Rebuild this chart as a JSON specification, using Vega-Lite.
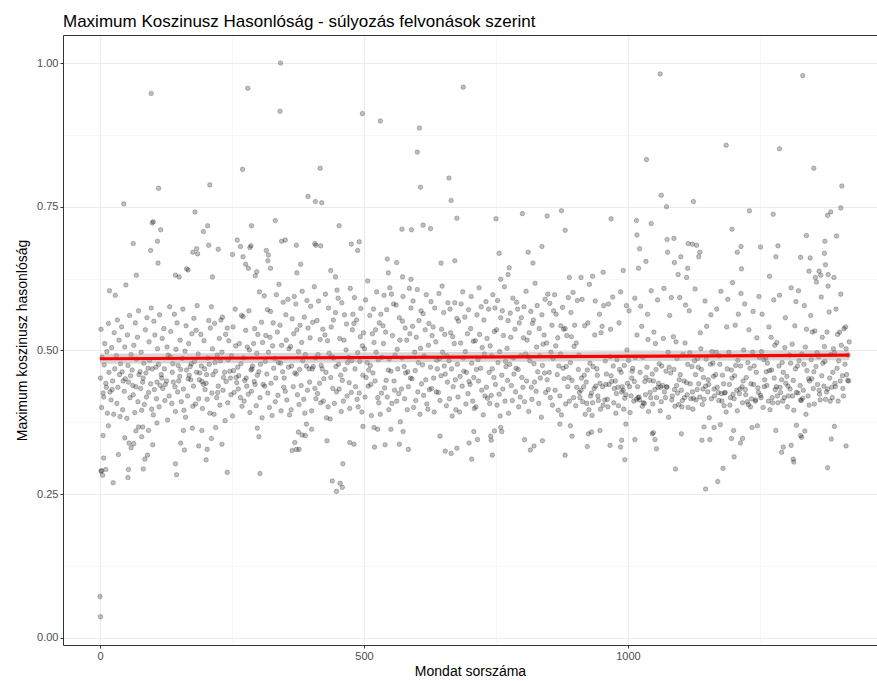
{"$schema":"https://vega.github.io/schema/vega-lite/v6.json","autosize":{"type":"none"},"padding":{"left":63,"top":35,"right":0,"bottom":36},"width":814,"height":610,"background":"white","title":{"text":"Maximum Koszinusz Hasonlóság - súlyozás felvonások szerint","anchor":"start","frame":"group","font":"Liberation Sans","fontSize":17,"fontWeight":"normal","color":"#000000","baseline":"alphabetic","offset":10,"dy":19},"config":{"view":{"stroke":null},"axis":{"labelFont":"Liberation Sans","titleFont":"Liberation Sans"}},"data":{"values":[
{"x":97,"y":0.947},{"x":111,"y":0.782},{"x":45,"y":0.755},{"x":180,"y":0.741},{"x":99,"y":0.722},{"x":101,"y":0.724},{"x":115,"y":0.71},{"x":196,"y":0.707},{"x":63,"y":0.686},{"x":109,"y":0.69},{"x":96,"y":0.674},{"x":183,"y":0.677},{"x":176,"y":0.671},{"x":185,"y":0.668},{"x":110,"y":0.652},{"x":69,"y":0.631},{"x":167,"y":0.64},{"x":164,"y":0.642},{"x":143,"y":0.631},{"x":150,"y":0.628},
{"x":342,"y":1.0},{"x":280,"y":0.956},{"x":341,"y":0.916},{"x":270,"y":0.815},{"x":208,"y":0.788},{"x":417,"y":0.817},{"x":394,"y":0.768},{"x":408,"y":0.759},{"x":420,"y":0.757},{"x":332,"y":0.726},{"x":204,"y":0.717},{"x":287,"y":0.717},{"x":260,"y":0.692},{"x":266,"y":0.681},{"x":286,"y":0.682},{"x":284,"y":0.679},{"x":344,"y":0.69},{"x":351,"y":0.692},{"x":372,"y":0.683},{"x":407,"y":0.686},{"x":409,"y":0.683},{"x":418,"y":0.682},{"x":453,"y":0.717},{"x":206,"y":0.683},{"x":224,"y":0.676},{"x":251,"y":0.667},{"x":271,"y":0.663},{"x":315,"y":0.674},{"x":319,"y":0.666},{"x":318,"y":0.656},{"x":276,"y":0.65},{"x":281,"y":0.643},{"x":323,"y":0.643},{"x":380,"y":0.65},{"x":373,"y":0.635},{"x":437,"y":0.639},{"x":446,"y":0.628},{"x":297,"y":0.637},{"x":294,"y":0.63},{"x":213,"y":0.628},
{"x":688,"y":0.958},{"x":497,"y":0.912},{"x":531,"y":0.899},{"x":605,"y":0.887},{"x":601,"y":0.845},{"x":661,"y":0.8},{"x":607,"y":0.784},{"x":665,"y":0.761},{"x":676,"y":0.73},{"x":572,"y":0.711},{"x":590,"y":0.71},{"x":612,"y":0.718},{"x":626,"y":0.712},{"x":476,"y":0.685},{"x":491,"y":0.689},{"x":488,"y":0.674},{"x":544,"y":0.659},{"x":562,"y":0.653},{"x":646,"y":0.652},{"x":672,"y":0.656},{"x":546,"y":0.635},{"x":573,"y":0.628},{"x":589,"y":0.624},
{"x":750,"y":0.729},{"x":800,"y":0.738},{"x":847,"y":0.734},{"x":874,"y":0.743},{"x":881,"y":0.709},{"x":968,"y":0.729},{"x":756,"y":0.669},{"x":811,"y":0.671},{"x":837,"y":0.681},{"x":820,"y":0.652},{"x":775,"y":0.644},{"x":773,"y":0.632},{"x":759,"y":0.624},{"x":889,"y":0.627},{"x":911,"y":0.627},{"x":933,"y":0.629},{"x":953,"y":0.636},
{"x":1061,"y":0.981},{"x":1186,"y":0.857},{"x":1035,"y":0.832},{"x":1063,"y":0.77},{"x":1073,"y":0.75},{"x":1124,"y":0.759},{"x":1016,"y":0.726},{"x":1044,"y":0.721},{"x":1197,"y":0.711},{"x":1017,"y":0.701},{"x":1074,"y":0.693},{"x":1087,"y":0.695},{"x":1114,"y":0.686},{"x":1122,"y":0.685},{"x":1130,"y":0.683},{"x":1136,"y":0.671},{"x":1134,"y":0.663},{"x":1022,"y":0.677},{"x":1075,"y":0.671},{"x":1100,"y":0.663},{"x":1214,"y":0.681},{"x":1207,"y":0.671},{"x":1034,"y":0.655},{"x":1088,"y":0.653},{"x":1020,"y":0.643},{"x":1113,"y":0.643},{"x":1095,"y":0.632},{"x":1111,"y":0.627},{"x":1215,"y":0.642},{"x":991,"y":0.639},
{"x":1331,"y":0.978},{"x":1287,"y":0.851},{"x":1352,"y":0.817},{"x":1405,"y":0.786},{"x":1403,"y":0.748},{"x":1230,"y":0.743},{"x":1275,"y":0.737},{"x":1384,"y":0.741},{"x":1378,"y":0.735},{"x":1338,"y":0.7},{"x":1395,"y":0.699},{"x":1373,"y":0.69},{"x":1372,"y":0.669},{"x":1374,"y":0.649},{"x":1251,"y":0.68},{"x":1284,"y":0.682},{"x":1280,"y":0.663},{"x":1327,"y":0.662},{"x":1345,"y":0.661},{"x":1268,"y":0.629},{"x":1343,"y":0.638},{"x":1362,"y":0.638},{"x":1365,"y":0.631},{"x":1355,"y":0.627},{"x":1379,"y":0.632},{"x":1390,"y":0.627},
{"x":0,"y":0.072},{"x":1,"y":0.037},{"x":16,"y":0.369},{"x":6,"y":0.352},{"x":68,"y":0.36},{"x":73,"y":0.367},{"x":81,"y":0.367},{"x":47,"y":0.348},{"x":55,"y":0.339},{"x":64,"y":0.338},{"x":59,"y":0.331},{"x":79,"y":0.35},{"x":92,"y":0.361},{"x":100,"y":0.336},{"x":35,"y":0.319},{"x":7,"y":0.313},{"x":2,"y":0.29},{"x":3,"y":0.291},{"x":11,"y":0.293},{"x":5,"y":0.283},{"x":25,"y":0.27},{"x":54,"y":0.293},{"x":53,"y":0.279},{"x":82,"y":0.294},{"x":85,"y":0.311},{"x":90,"y":0.318},{"x":143,"y":0.303},{"x":145,"y":0.284},{"x":153,"y":0.339},{"x":160,"y":0.327},{"x":187,"y":0.334},{"x":158,"y":0.361},{"x":175,"y":0.365},{"x":193,"y":0.361},{"x":108,"y":0.374},
{"x":211,"y":0.347},{"x":203,"y":0.328},{"x":201,"y":0.31},{"x":231,"y":0.337},{"x":219,"y":0.366},{"x":241,"y":0.288},{"x":303,"y":0.286},{"x":301,"y":0.35},{"x":298,"y":0.365},{"x":364,"y":0.326},{"x":372,"y":0.328},{"x":377,"y":0.328},{"x":369,"y":0.34},{"x":376,"y":0.358},{"x":383,"y":0.353},{"x":389,"y":0.352},{"x":391,"y":0.372},{"x":401,"y":0.363},{"x":430,"y":0.343},{"x":440,"y":0.273},{"x":448,"y":0.255},{"x":455,"y":0.269},{"x":459,"y":0.262},
{"x":460,"y":0.303},{"x":473,"y":0.34},{"x":481,"y":0.337},{"x":498,"y":0.368},{"x":519,"y":0.366},{"x":526,"y":0.363},{"x":520,"y":0.332},{"x":540,"y":0.336},{"x":551,"y":0.363},{"x":567,"y":0.337},{"x":574,"y":0.359},{"x":584,"y":0.328},{"x":644,"y":0.351},{"x":654,"y":0.325},{"x":665,"y":0.321},{"x":676,"y":0.33},{"x":699,"y":0.339},{"x":704,"y":0.311},{"x":708,"y":0.359},
{"x":715,"y":0.345},{"x":740,"y":0.351},{"x":741,"y":0.344},{"x":743,"y":0.318},{"x":747,"y":0.36},{"x":759,"y":0.366},{"x":761,"y":0.359},{"x":804,"y":0.345},{"x":822,"y":0.334},{"x":815,"y":0.327},{"x":838,"y":0.343},{"x":871,"y":0.372},{"x":891,"y":0.369},{"x":894,"y":0.351},{"x":881,"y":0.318},{"x":923,"y":0.333},{"x":925,"y":0.355},{"x":931,"y":0.358},{"x":947,"y":0.361},{"x":966,"y":0.335},
{"x":986,"y":0.332},{"x":988,"y":0.344},{"x":994,"y":0.31},{"x":996,"y":0.372},{"x":1013,"y":0.345},{"x":1046,"y":0.355},{"x":1048,"y":0.357},{"x":1051,"y":0.345},{"x":1054,"y":0.329},{"x":1090,"y":0.294},{"x":1101,"y":0.355},{"x":1140,"y":0.344},{"x":1147,"y":0.259},{"x":1170,"y":0.272},{"x":1180,"y":0.295},{"x":1155,"y":0.345},{"x":1163,"y":0.366},{"x":1144,"y":0.367},{"x":1175,"y":0.371},{"x":1196,"y":0.347},{"x":1201,"y":0.315},{"x":1200,"y":0.361},{"x":1213,"y":0.339},
{"x":1217,"y":0.347},{"x":1235,"y":0.366},{"x":1245,"y":0.369},{"x":1280,"y":0.361},{"x":1294,"y":0.332},{"x":1291,"y":0.323},{"x":1309,"y":0.335},{"x":1313,"y":0.311},{"x":1314,"y":0.306},{"x":1327,"y":0.352},{"x":1329,"y":0.349},{"x":1319,"y":0.37},{"x":1335,"y":0.36},{"x":1378,"y":0.296},{"x":1385,"y":0.346},{"x":1413,"y":0.334},{"x":1391,"y":0.368},
{"x":1,"y":0.452},{"x":2,"y":0.537},{"x":3,"y":0.401},{"x":4,"y":0.488},{"x":6,"y":0.426},{"x":7,"y":0.419},{"x":8,"y":0.475},{"x":9,"y":0.512},
{"x":11,"y":0.443},{"x":12,"y":0.436},{"x":13,"y":0.498},{"x":14,"y":0.391},{"x":16,"y":0.547},{"x":17,"y":0.462},{"x":18,"y":0.604},{"x":19,"y":0.428},
{"x":21,"y":0.414},{"x":22,"y":0.505},{"x":23,"y":0.432},{"x":24,"y":0.447},{"x":26,"y":0.389},{"x":27,"y":0.531},{"x":28,"y":0.468},{"x":29,"y":0.596},
{"x":31,"y":0.491},{"x":32,"y":0.408},{"x":33,"y":0.553},{"x":34,"y":0.436},{"x":36,"y":0.518},{"x":37,"y":0.458},{"x":38,"y":0.385},{"x":39,"y":0.477},
{"x":41,"y":0.541},{"x":42,"y":0.463},{"x":43,"y":0.397},{"x":44,"y":0.447},{"x":46,"y":0.429},{"x":47,"y":0.506},{"x":48,"y":0.451},{"x":49,"y":0.614},
{"x":51,"y":0.382},{"x":52,"y":0.527},{"x":53,"y":0.474},{"x":54,"y":0.445},{"x":56,"y":0.561},{"x":57,"y":0.418},{"x":58,"y":0.456},{"x":59,"y":0.493},
{"x":61,"y":0.466},{"x":62,"y":0.439},{"x":63,"y":0.423},{"x":64,"y":0.509},{"x":66,"y":0.392},{"x":67,"y":0.548},{"x":68,"y":0.437},{"x":69,"y":0.485},
{"x":71,"y":0.523},{"x":72,"y":0.411},{"x":73,"y":0.569},{"x":74,"y":0.458},{"x":76,"y":0.463},{"x":77,"y":0.434},{"x":78,"y":0.497},{"x":79,"y":0.396},
{"x":81,"y":0.445},{"x":82,"y":0.452},{"x":83,"y":0.478},{"x":84,"y":0.406},{"x":86,"y":0.536},{"x":87,"y":0.461},{"x":88,"y":0.419},{"x":89,"y":0.557},
{"x":91,"y":0.469},{"x":92,"y":0.427},{"x":93,"y":0.515},{"x":94,"y":0.483},{"x":96,"y":0.442},{"x":97,"y":0.574},{"x":98,"y":0.398},{"x":99,"y":0.468},
{"x":101,"y":0.388},{"x":102,"y":0.551},{"x":103,"y":0.432},{"x":104,"y":0.527},{"x":106,"y":0.471},{"x":107,"y":0.416},{"x":108,"y":0.445},{"x":109,"y":0.503},
{"x":111,"y":0.476},{"x":112,"y":0.402},{"x":113,"y":0.562},{"x":114,"y":0.439},{"x":116,"y":0.458},{"x":117,"y":0.452},{"x":118,"y":0.521},{"x":119,"y":0.434},
{"x":121,"y":0.538},{"x":122,"y":0.468},{"x":123,"y":0.413},{"x":124,"y":0.441},{"x":126,"y":0.447},{"x":127,"y":0.506},{"x":128,"y":0.379},{"x":129,"y":0.492},
{"x":131,"y":0.421},{"x":132,"y":0.576},{"x":133,"y":0.489},{"x":134,"y":0.533},{"x":136,"y":0.408},{"x":137,"y":0.462},{"x":138,"y":0.477},{"x":139,"y":0.445},
{"x":141,"y":0.563},{"x":142,"y":0.437},{"x":143,"y":0.394},{"x":144,"y":0.502},{"x":146,"y":0.548},{"x":147,"y":0.428},{"x":148,"y":0.474},{"x":149,"y":0.447},
{"x":151,"y":0.455},{"x":152,"y":0.518},{"x":153,"y":0.467},{"x":154,"y":0.411},{"x":156,"y":0.486},{"x":157,"y":0.572},{"x":158,"y":0.433},{"x":159,"y":0.396},
{"x":161,"y":0.499},{"x":162,"y":0.384},{"x":163,"y":0.543},{"x":164,"y":0.466},{"x":166,"y":0.421},{"x":167,"y":0.451},{"x":168,"y":0.512},{"x":169,"y":0.457},
{"x":171,"y":0.472},{"x":172,"y":0.449},{"x":173,"y":0.477},{"x":174,"y":0.529},{"x":176,"y":0.403},{"x":177,"y":0.438},{"x":178,"y":0.556},{"x":179,"y":0.481},
{"x":181,"y":0.407},{"x":182,"y":0.535},{"x":183,"y":0.462},{"x":184,"y":0.578},{"x":186,"y":0.494},{"x":187,"y":0.416},{"x":188,"y":0.449},{"x":189,"y":0.461},
{"x":191,"y":0.528},{"x":192,"y":0.473},{"x":193,"y":0.446},{"x":194,"y":0.399},{"x":196,"y":0.441},{"x":197,"y":0.517},{"x":198,"y":0.468},{"x":199,"y":0.432},
{"x":201,"y":0.443},{"x":202,"y":0.458},{"x":203,"y":0.415},{"x":204,"y":0.487},{"x":206,"y":0.552},{"x":207,"y":0.476},{"x":208,"y":0.391},{"x":209,"y":0.539},
{"x":211,"y":0.576},{"x":212,"y":0.426},{"x":213,"y":0.503},{"x":214,"y":0.458},{"x":216,"y":0.389},{"x":217,"y":0.547},{"x":218,"y":0.479},{"x":219,"y":0.464},
{"x":221,"y":0.418},{"x":222,"y":0.492},{"x":223,"y":0.427},{"x":224,"y":0.438},{"x":226,"y":0.521},{"x":227,"y":0.405},{"x":228,"y":0.482},{"x":229,"y":0.553},
{"x":231,"y":0.497},{"x":232,"y":0.558},{"x":233,"y":0.431},{"x":234,"y":0.453},{"x":236,"y":0.462},{"x":237,"y":0.378},{"x":238,"y":0.528},{"x":239,"y":0.446},
{"x":241,"y":0.539},{"x":242,"y":0.409},{"x":243,"y":0.484},{"x":244,"y":0.517},{"x":246,"y":0.464},{"x":247,"y":0.452},{"x":248,"y":0.423},{"x":249,"y":0.491},
{"x":251,"y":0.386},{"x":252,"y":0.541},{"x":253,"y":0.465},{"x":254,"y":0.427},{"x":256,"y":0.572},{"x":257,"y":0.508},{"x":258,"y":0.453},{"x":259,"y":0.444},
{"x":261,"y":0.471},{"x":262,"y":0.433},{"x":263,"y":0.456},{"x":264,"y":0.512},{"x":266,"y":0.418},{"x":267,"y":0.477},{"x":268,"y":0.561},{"x":269,"y":0.403},
{"x":271,"y":0.559},{"x":272,"y":0.487},{"x":273,"y":0.412},{"x":274,"y":0.448},{"x":276,"y":0.535},{"x":277,"y":0.452},{"x":278,"y":0.438},{"x":279,"y":0.506},
{"x":281,"y":0.424},{"x":282,"y":0.569},{"x":283,"y":0.501},{"x":284,"y":0.392},{"x":286,"y":0.466},{"x":287,"y":0.429},{"x":288,"y":0.468},{"x":289,"y":0.473},
{"x":291,"y":0.512},{"x":292,"y":0.446},{"x":293,"y":0.538},{"x":294,"y":0.441},{"x":296,"y":0.404},{"x":297,"y":0.495},{"x":298,"y":0.457},{"x":299,"y":0.528},
{"x":301,"y":0.463},{"x":302,"y":0.602},{"x":303,"y":0.418},{"x":304,"y":0.476},{"x":306,"y":0.549},{"x":307,"y":0.383},{"x":308,"y":0.514},{"x":309,"y":0.441},
{"x":311,"y":0.595},{"x":312,"y":0.438},{"x":313,"y":0.481},{"x":314,"y":0.526},{"x":316,"y":0.459},{"x":317,"y":0.571},{"x":318,"y":0.426},{"x":319,"y":0.497},
{"x":321,"y":0.401},{"x":322,"y":0.523},{"x":323,"y":0.568},{"x":324,"y":0.443},{"x":326,"y":0.387},{"x":327,"y":0.508},{"x":328,"y":0.548},{"x":329,"y":0.469},
{"x":331,"y":0.486},{"x":332,"y":0.411},{"x":333,"y":0.452},{"x":334,"y":0.597},{"x":336,"y":0.532},{"x":337,"y":0.422},{"x":338,"y":0.479},{"x":339,"y":0.615},
{"x":341,"y":0.544},{"x":342,"y":0.478},{"x":343,"y":0.395},{"x":344,"y":0.509},{"x":346,"y":0.463},{"x":347,"y":0.584},{"x":348,"y":0.436},{"x":349,"y":0.452},
{"x":351,"y":0.429},{"x":352,"y":0.562},{"x":353,"y":0.518},{"x":354,"y":0.414},{"x":356,"y":0.589},{"x":357,"y":0.471},{"x":358,"y":0.503},{"x":359,"y":0.388},
{"x":361,"y":0.507},{"x":362,"y":0.397},{"x":363,"y":0.473},{"x":364,"y":0.555},{"x":366,"y":0.437},{"x":367,"y":0.529},{"x":368,"y":0.594},{"x":369,"y":0.461},
{"x":371,"y":0.581},{"x":372,"y":0.459},{"x":373,"y":0.536},{"x":374,"y":0.423},{"x":376,"y":0.498},{"x":377,"y":0.406},{"x":378,"y":0.467},{"x":379,"y":0.544},
{"x":381,"y":0.439},{"x":382,"y":0.514},{"x":383,"y":0.603},{"x":384,"y":0.482},{"x":386,"y":0.415},{"x":387,"y":0.558},{"x":388,"y":0.391},{"x":389,"y":0.493},
{"x":391,"y":0.473},{"x":392,"y":0.587},{"x":393,"y":0.431},{"x":394,"y":0.539},{"x":396,"y":0.468},{"x":397,"y":0.445},{"x":398,"y":0.522},{"x":399,"y":0.577},
{"x":401,"y":0.395},{"x":402,"y":0.468},{"x":403,"y":0.549},{"x":404,"y":0.472},{"x":406,"y":0.611},{"x":407,"y":0.434},{"x":408,"y":0.487},{"x":409,"y":0.416},
{"x":411,"y":0.552},{"x":412,"y":0.425},{"x":413,"y":0.493},{"x":414,"y":0.586},{"x":416,"y":0.443},{"x":417,"y":0.519},{"x":418,"y":0.409},{"x":419,"y":0.474},
{"x":421,"y":0.468},{"x":422,"y":0.537},{"x":423,"y":0.412},{"x":424,"y":0.451},{"x":426,"y":0.527},{"x":427,"y":0.598},{"x":428,"y":0.462},{"x":429,"y":0.383},
{"x":431,"y":0.517},{"x":432,"y":0.402},{"x":433,"y":0.574},{"x":434,"y":0.495},{"x":436,"y":0.381},{"x":437,"y":0.453},{"x":438,"y":0.541},{"x":439,"y":0.489},
{"x":441,"y":0.434},{"x":442,"y":0.553},{"x":443,"y":0.487},{"x":444,"y":0.408},{"x":446,"y":0.566},{"x":447,"y":0.472},{"x":448,"y":0.428},{"x":449,"y":0.605},
{"x":451,"y":0.591},{"x":452,"y":0.476},{"x":453,"y":0.433},{"x":454,"y":0.521},{"x":456,"y":0.457},{"x":457,"y":0.394},{"x":458,"y":0.583},{"x":459,"y":0.448},
{"x":461,"y":0.412},{"x":462,"y":0.518},{"x":463,"y":0.562},{"x":464,"y":0.467},{"x":466,"y":0.501},{"x":467,"y":0.546},{"x":468,"y":0.421},{"x":469,"y":0.479},
{"x":471,"y":0.488},{"x":472,"y":0.444},{"x":473,"y":0.399},{"x":474,"y":0.608},{"x":476,"y":0.427},{"x":477,"y":0.482},{"x":478,"y":0.536},{"x":479,"y":0.563},
{"x":481,"y":0.547},{"x":482,"y":0.592},{"x":483,"y":0.468},{"x":484,"y":0.437},{"x":486,"y":0.553},{"x":487,"y":0.415},{"x":488,"y":0.496},{"x":489,"y":0.402},
{"x":491,"y":0.426},{"x":492,"y":0.481},{"x":493,"y":0.524},{"x":494,"y":0.573},{"x":496,"y":0.393},{"x":497,"y":0.508},{"x":498,"y":0.457},{"x":499,"y":0.531},
{"x":501,"y":0.503},{"x":502,"y":0.419},{"x":503,"y":0.588},{"x":504,"y":0.453},{"x":506,"y":0.479},{"x":507,"y":0.621},{"x":508,"y":0.438},{"x":509,"y":0.466},
{"x":511,"y":0.561},{"x":512,"y":0.474},{"x":513,"y":0.441},{"x":514,"y":0.387},{"x":516,"y":0.529},{"x":517,"y":0.461},{"x":518,"y":0.572},{"x":519,"y":0.514},
{"x":521,"y":0.447},{"x":522,"y":0.536},{"x":523,"y":0.497},{"x":524,"y":0.602},{"x":526,"y":0.418},{"x":527,"y":0.484},{"x":528,"y":0.409},{"x":529,"y":0.548},
{"x":531,"y":0.389},{"x":532,"y":0.563},{"x":533,"y":0.426},{"x":534,"y":0.488},{"x":536,"y":0.543},{"x":537,"y":0.512},{"x":538,"y":0.596},{"x":539,"y":0.435},
{"x":541,"y":0.532},{"x":542,"y":0.448},{"x":543,"y":0.571},{"x":544,"y":0.419},{"x":546,"y":0.466},{"x":547,"y":0.397},{"x":548,"y":0.485},{"x":549,"y":0.609},
{"x":551,"y":0.464},{"x":552,"y":0.598},{"x":553,"y":0.408},{"x":554,"y":0.526},{"x":556,"y":0.581},{"x":557,"y":0.447},{"x":558,"y":0.431},{"x":559,"y":0.492},
{"x":561,"y":0.579},{"x":562,"y":0.412},{"x":563,"y":0.502},{"x":564,"y":0.468},{"x":566,"y":0.425},{"x":567,"y":0.557},{"x":568,"y":0.518},{"x":569,"y":0.376},
{"x":571,"y":0.433},{"x":572,"y":0.487},{"x":573,"y":0.551},{"x":574,"y":0.594},{"x":576,"y":0.472},{"x":577,"y":0.416},{"x":578,"y":0.539},{"x":579,"y":0.461},
{"x":581,"y":0.518},{"x":582,"y":0.397},{"x":583,"y":0.463},{"x":584,"y":0.437},{"x":586,"y":0.608},{"x":587,"y":0.529},{"x":588,"y":0.452},{"x":589,"y":0.574},
{"x":591,"y":0.451},{"x":592,"y":0.542},{"x":593,"y":0.586},{"x":594,"y":0.401},{"x":596,"y":0.497},{"x":597,"y":0.465},{"x":598,"y":0.413},{"x":599,"y":0.523},
{"x":601,"y":0.606},{"x":602,"y":0.428},{"x":603,"y":0.479},{"x":604,"y":0.552},{"x":606,"y":0.389},{"x":607,"y":0.504},{"x":608,"y":0.569},{"x":609,"y":0.442},
{"x":611,"y":0.475},{"x":612,"y":0.564},{"x":613,"y":0.422},{"x":614,"y":0.491},{"x":616,"y":0.536},{"x":617,"y":0.449},{"x":618,"y":0.597},{"x":619,"y":0.407},
{"x":621,"y":0.398},{"x":622,"y":0.509},{"x":623,"y":0.547},{"x":624,"y":0.432},{"x":626,"y":0.471},{"x":627,"y":0.585},{"x":628,"y":0.434},{"x":629,"y":0.526},
{"x":631,"y":0.541},{"x":632,"y":0.452},{"x":633,"y":0.393},{"x":634,"y":0.574},{"x":636,"y":0.515},{"x":637,"y":0.428},{"x":638,"y":0.483},{"x":639,"y":0.468},
{"x":641,"y":0.427},{"x":642,"y":0.599},{"x":643,"y":0.486},{"x":644,"y":0.413},{"x":646,"y":0.456},{"x":647,"y":0.537},{"x":648,"y":0.612},{"x":649,"y":0.497},
{"x":651,"y":0.566},{"x":652,"y":0.473},{"x":653,"y":0.528},{"x":654,"y":0.459},{"x":656,"y":0.404},{"x":657,"y":0.491},{"x":658,"y":0.445},{"x":659,"y":0.583},
{"x":661,"y":0.482},{"x":662,"y":0.416},{"x":663,"y":0.572},{"x":664,"y":0.531},{"x":666,"y":0.468},{"x":667,"y":0.386},{"x":668,"y":0.524},{"x":669,"y":0.437},
{"x":671,"y":0.512},{"x":672,"y":0.583},{"x":673,"y":0.449},{"x":674,"y":0.397},{"x":676,"y":0.556},{"x":677,"y":0.476},{"x":678,"y":0.419},{"x":679,"y":0.551},
{"x":681,"y":0.393},{"x":682,"y":0.455},{"x":683,"y":0.513},{"x":684,"y":0.581},{"x":686,"y":0.438},{"x":687,"y":0.602},{"x":688,"y":0.487},{"x":689,"y":0.464},
{"x":691,"y":0.558},{"x":692,"y":0.498},{"x":693,"y":0.407},{"x":694,"y":0.462},{"x":696,"y":0.529},{"x":697,"y":0.425},{"x":698,"y":0.571},{"x":699,"y":0.446},
{"x":701,"y":0.441},{"x":702,"y":0.538},{"x":703,"y":0.594},{"x":704,"y":0.478},{"x":706,"y":0.412},{"x":707,"y":0.516},{"x":708,"y":0.453},{"x":709,"y":0.399},
{"x":711,"y":0.517},{"x":712,"y":0.402},{"x":713,"y":0.467},{"x":714,"y":0.562},{"x":716,"y":0.484},{"x":717,"y":0.447},{"x":718,"y":0.609},{"x":719,"y":0.528},
{"x":721,"y":0.469},{"x":722,"y":0.576},{"x":723,"y":0.431},{"x":724,"y":0.505},{"x":726,"y":0.388},{"x":727,"y":0.553},{"x":728,"y":0.494},{"x":729,"y":0.421},
{"x":731,"y":0.585},{"x":732,"y":0.436},{"x":733,"y":0.521},{"x":734,"y":0.417},{"x":736,"y":0.572},{"x":737,"y":0.462},{"x":738,"y":0.408},{"x":739,"y":0.508},
{"x":741,"y":0.422},{"x":742,"y":0.491},{"x":743,"y":0.468},{"x":744,"y":0.597},{"x":746,"y":0.453},{"x":747,"y":0.533},{"x":748,"y":0.574},{"x":749,"y":0.441},
{"x":751,"y":0.536},{"x":752,"y":0.405},{"x":753,"y":0.587},{"x":754,"y":0.479},{"x":756,"y":0.424},{"x":757,"y":0.498},{"x":758,"y":0.386},{"x":759,"y":0.557},
{"x":761,"y":0.457},{"x":762,"y":0.569},{"x":763,"y":0.433},{"x":764,"y":0.526},{"x":766,"y":0.611},{"x":767,"y":0.412},{"x":768,"y":0.481},{"x":769,"y":0.472},
{"x":771,"y":0.504},{"x":772,"y":0.448},{"x":773,"y":0.552},{"x":774,"y":0.391},{"x":776,"y":0.476},{"x":777,"y":0.565},{"x":778,"y":0.523},{"x":779,"y":0.439},
{"x":781,"y":0.413},{"x":782,"y":0.591},{"x":783,"y":0.487},{"x":784,"y":0.459},{"x":786,"y":0.537},{"x":787,"y":0.428},{"x":788,"y":0.469},{"x":789,"y":0.584},
{"x":791,"y":0.572},{"x":792,"y":0.467},{"x":793,"y":0.402},{"x":794,"y":0.548},{"x":796,"y":0.419},{"x":797,"y":0.491},{"x":798,"y":0.557},{"x":799,"y":0.453},
{"x":801,"y":0.436},{"x":802,"y":0.522},{"x":803,"y":0.576},{"x":804,"y":0.411},{"x":806,"y":0.494},{"x":807,"y":0.603},{"x":808,"y":0.447},{"x":809,"y":0.518},
{"x":811,"y":0.489},{"x":812,"y":0.394},{"x":813,"y":0.531},{"x":814,"y":0.482},{"x":816,"y":0.568},{"x":817,"y":0.436},{"x":818,"y":0.415},{"x":819,"y":0.547},
{"x":821,"y":0.553},{"x":822,"y":0.477},{"x":823,"y":0.445},{"x":824,"y":0.617},{"x":826,"y":0.429},{"x":827,"y":0.506},{"x":828,"y":0.578},{"x":829,"y":0.463},
{"x":831,"y":0.408},{"x":832,"y":0.538},{"x":833,"y":0.491},{"x":834,"y":0.452},{"x":836,"y":0.384},{"x":837,"y":0.562},{"x":838,"y":0.474},{"x":839,"y":0.511},
{"x":841,"y":0.527},{"x":842,"y":0.461},{"x":843,"y":0.589},{"x":844,"y":0.427},{"x":846,"y":0.513},{"x":847,"y":0.449},{"x":848,"y":0.598},{"x":849,"y":0.432},
{"x":851,"y":0.462},{"x":852,"y":0.582},{"x":853,"y":0.418},{"x":854,"y":0.497},{"x":856,"y":0.544},{"x":857,"y":0.405},{"x":858,"y":0.486},{"x":859,"y":0.569},
{"x":861,"y":0.597},{"x":862,"y":0.431},{"x":863,"y":0.508},{"x":864,"y":0.563},{"x":866,"y":0.458},{"x":867,"y":0.522},{"x":868,"y":0.396},{"x":869,"y":0.473},
{"x":871,"y":0.421},{"x":872,"y":0.494},{"x":873,"y":0.543},{"x":874,"y":0.388},{"x":876,"y":0.575},{"x":877,"y":0.469},{"x":878,"y":0.537},{"x":879,"y":0.451},
{"x":881,"y":0.538},{"x":882,"y":0.407},{"x":883,"y":0.472},{"x":884,"y":0.526},{"x":886,"y":0.437},{"x":887,"y":0.592},{"x":888,"y":0.453},{"x":889,"y":0.412},
{"x":891,"y":0.479},{"x":892,"y":0.566},{"x":893,"y":0.524},{"x":894,"y":0.448},{"x":896,"y":0.601},{"x":897,"y":0.418},{"x":898,"y":0.507},{"x":899,"y":0.544},
{"x":901,"y":0.404},{"x":902,"y":0.513},{"x":903,"y":0.436},{"x":904,"y":0.587},{"x":906,"y":0.467},{"x":907,"y":0.492},{"x":908,"y":0.427},{"x":909,"y":0.418},
{"x":911,"y":0.431},{"x":912,"y":0.452},{"x":913,"y":0.589},{"x":914,"y":0.411},{"x":916,"y":0.437},{"x":917,"y":0.457},{"x":918,"y":0.543},{"x":919,"y":0.389},
{"x":921,"y":0.445},{"x":922,"y":0.408},{"x":923,"y":0.466},{"x":924,"y":0.548},{"x":926,"y":0.397},{"x":927,"y":0.615},{"x":928,"y":0.478},{"x":929,"y":0.421},
{"x":931,"y":0.426},{"x":932,"y":0.387},{"x":933,"y":0.409},{"x":934,"y":0.472},{"x":936,"y":0.434},{"x":937,"y":0.527},{"x":938,"y":0.586},{"x":939,"y":0.438},
{"x":941,"y":0.468},{"x":942,"y":0.457},{"x":943,"y":0.421},{"x":944,"y":0.413},{"x":946,"y":0.563},{"x":947,"y":0.443},{"x":948,"y":0.398},{"x":949,"y":0.531},
{"x":951,"y":0.542},{"x":952,"y":0.437},{"x":953,"y":0.405},{"x":954,"y":0.578},{"x":956,"y":0.414},{"x":957,"y":0.482},{"x":958,"y":0.441},{"x":959,"y":0.459},
{"x":961,"y":0.415},{"x":962,"y":0.402},{"x":963,"y":0.581},{"x":964,"y":0.441},{"x":966,"y":0.489},{"x":967,"y":0.537},{"x":968,"y":0.456},{"x":969,"y":0.446},
{"x":971,"y":0.593},{"x":972,"y":0.473},{"x":973,"y":0.409},{"x":974,"y":0.434},{"x":976,"y":0.447},{"x":977,"y":0.391},{"x":978,"y":0.425},{"x":979,"y":0.484},
{"x":981,"y":0.436},{"x":982,"y":0.404},{"x":983,"y":0.548},{"x":984,"y":0.467},{"x":986,"y":0.602},{"x":987,"y":0.462},{"x":988,"y":0.428},{"x":989,"y":0.437},
{"x":991,"y":0.431},{"x":992,"y":0.398},{"x":993,"y":0.474},{"x":994,"y":0.417},{"x":996,"y":0.423},{"x":997,"y":0.578},{"x":998,"y":0.501},{"x":999,"y":0.443},
{"x":1001,"y":0.483},{"x":1002,"y":0.569},{"x":1003,"y":0.437},{"x":1004,"y":0.392},{"x":1006,"y":0.421},{"x":1007,"y":0.452},{"x":1008,"y":0.464},{"x":1009,"y":0.469},
{"x":1011,"y":0.412},{"x":1012,"y":0.446},{"x":1013,"y":0.591},{"x":1014,"y":0.488},{"x":1016,"y":0.415},{"x":1017,"y":0.527},{"x":1018,"y":0.437},{"x":1019,"y":0.418},
{"x":1021,"y":0.419},{"x":1022,"y":0.414},{"x":1023,"y":0.462},{"x":1024,"y":0.577},{"x":1026,"y":0.542},{"x":1027,"y":0.403},{"x":1028,"y":0.488},{"x":1029,"y":0.409},
{"x":1031,"y":0.408},{"x":1032,"y":0.446},{"x":1033,"y":0.423},{"x":1034,"y":0.453},{"x":1036,"y":0.471},{"x":1037,"y":0.563},{"x":1038,"y":0.519},{"x":1039,"y":0.394},
{"x":1041,"y":0.448},{"x":1042,"y":0.427},{"x":1043,"y":0.418},{"x":1044,"y":0.604},{"x":1046,"y":0.459},{"x":1047,"y":0.407},{"x":1048,"y":0.447},{"x":1049,"y":0.532},
{"x":1051,"y":0.432},{"x":1052,"y":0.512},{"x":1053,"y":0.467},{"x":1054,"y":0.418},{"x":1056,"y":0.588},{"x":1057,"y":0.436},{"x":1058,"y":0.443},{"x":1059,"y":0.477},
{"x":1061,"y":0.395},{"x":1062,"y":0.436},{"x":1063,"y":0.411},{"x":1064,"y":0.473},{"x":1066,"y":0.439},{"x":1067,"y":0.521},{"x":1068,"y":0.608},{"x":1069,"y":0.428},
{"x":1071,"y":0.418},{"x":1072,"y":0.464},{"x":1073,"y":0.437},{"x":1074,"y":0.436},{"x":1076,"y":0.497},{"x":1077,"y":0.384},{"x":1078,"y":0.471},{"x":1079,"y":0.561},
{"x":1081,"y":0.461},{"x":1082,"y":0.592},{"x":1083,"y":0.414},{"x":1084,"y":0.421},{"x":1086,"y":0.524},{"x":1087,"y":0.467},{"x":1088,"y":0.432},{"x":1089,"y":0.403},
{"x":1091,"y":0.515},{"x":1092,"y":0.439},{"x":1093,"y":0.486},{"x":1094,"y":0.426},{"x":1096,"y":0.406},{"x":1097,"y":0.449},{"x":1098,"y":0.592},{"x":1099,"y":0.458},
{"x":1101,"y":0.431},{"x":1102,"y":0.402},{"x":1103,"y":0.413},{"x":1104,"y":0.493},{"x":1106,"y":0.447},{"x":1107,"y":0.418},{"x":1108,"y":0.513},{"x":1109,"y":0.579},
{"x":1111,"y":0.444},{"x":1112,"y":0.423},{"x":1113,"y":0.476},{"x":1114,"y":0.401},{"x":1116,"y":0.569},{"x":1117,"y":0.496},{"x":1118,"y":0.442},{"x":1119,"y":0.416},
{"x":1121,"y":0.472},{"x":1122,"y":0.428},{"x":1123,"y":0.398},{"x":1124,"y":0.417},{"x":1126,"y":0.482},{"x":1127,"y":0.607},{"x":1128,"y":0.458},{"x":1129,"y":0.414},
{"x":1131,"y":0.432},{"x":1132,"y":0.486},{"x":1133,"y":0.471},{"x":1134,"y":0.442},{"x":1136,"y":0.419},{"x":1137,"y":0.531},{"x":1138,"y":0.503},{"x":1139,"y":0.467},
{"x":1141,"y":0.406},{"x":1142,"y":0.433},{"x":1143,"y":0.453},{"x":1144,"y":0.415},{"x":1146,"y":0.586},{"x":1147,"y":0.438},{"x":1148,"y":0.485},{"x":1149,"y":0.542},
{"x":1151,"y":0.428},{"x":1152,"y":0.449},{"x":1153,"y":0.441},{"x":1154,"y":0.383},{"x":1156,"y":0.476},{"x":1157,"y":0.562},{"x":1158,"y":0.416},{"x":1159,"y":0.498},
{"x":1161,"y":0.478},{"x":1162,"y":0.455},{"x":1163,"y":0.433},{"x":1164,"y":0.421},{"x":1166,"y":0.458},{"x":1167,"y":0.497},{"x":1168,"y":0.572},{"x":1169,"y":0.436},
{"x":1171,"y":0.427},{"x":1172,"y":0.413},{"x":1173,"y":0.491},{"x":1174,"y":0.476},{"x":1176,"y":0.603},{"x":1177,"y":0.425},{"x":1178,"y":0.412},{"x":1179,"y":0.457},
{"x":1181,"y":0.442},{"x":1182,"y":0.404},{"x":1183,"y":0.426},{"x":1184,"y":0.427},{"x":1186,"y":0.393},{"x":1187,"y":0.541},{"x":1188,"y":0.468},{"x":1189,"y":0.589},
{"x":1191,"y":0.497},{"x":1192,"y":0.441},{"x":1193,"y":0.405},{"x":1194,"y":0.418},{"x":1196,"y":0.466},{"x":1197,"y":0.452},{"x":1198,"y":0.618},{"x":1199,"y":0.424},
{"x":1201,"y":0.416},{"x":1202,"y":0.456},{"x":1203,"y":0.544},{"x":1204,"y":0.474},{"x":1206,"y":0.431},{"x":1207,"y":0.395},{"x":1208,"y":0.483},{"x":1209,"y":0.563},
{"x":1211,"y":0.425},{"x":1212,"y":0.433},{"x":1213,"y":0.473},{"x":1214,"y":0.599},{"x":1216,"y":0.437},{"x":1217,"y":0.409},{"x":1218,"y":0.447},{"x":1219,"y":0.501},
{"x":1221,"y":0.581},{"x":1222,"y":0.432},{"x":1223,"y":0.423},{"x":1224,"y":0.453},{"x":1226,"y":0.411},{"x":1227,"y":0.479},{"x":1228,"y":0.406},{"x":1229,"y":0.536},
{"x":1231,"y":0.469},{"x":1232,"y":0.402},{"x":1233,"y":0.442},{"x":1234,"y":0.416},{"x":1236,"y":0.497},{"x":1237,"y":0.568},{"x":1238,"y":0.441},{"x":1239,"y":0.473},
{"x":1241,"y":0.412},{"x":1242,"y":0.414},{"x":1243,"y":0.462},{"x":1244,"y":0.522},{"x":1246,"y":0.435},{"x":1247,"y":0.427},{"x":1248,"y":0.594},{"x":1249,"y":0.488},
{"x":1251,"y":0.422},{"x":1252,"y":0.418},{"x":1253,"y":0.498},{"x":1254,"y":0.563},{"x":1256,"y":0.401},{"x":1257,"y":0.484},{"x":1258,"y":0.437},{"x":1259,"y":0.449},
{"x":1261,"y":0.487},{"x":1262,"y":0.463},{"x":1263,"y":0.439},{"x":1264,"y":0.478},{"x":1266,"y":0.412},{"x":1267,"y":0.541},{"x":1268,"y":0.465},{"x":1269,"y":0.397},
{"x":1271,"y":0.523},{"x":1272,"y":0.466},{"x":1273,"y":0.418},{"x":1274,"y":0.409},{"x":1276,"y":0.588},{"x":1277,"y":0.452},{"x":1278,"y":0.509},{"x":1279,"y":0.432},
{"x":1281,"y":0.437},{"x":1282,"y":0.514},{"x":1283,"y":0.421},{"x":1284,"y":0.409},{"x":1286,"y":0.473},{"x":1287,"y":0.596},{"x":1288,"y":0.436},{"x":1289,"y":0.427},
{"x":1291,"y":0.449},{"x":1292,"y":0.479},{"x":1293,"y":0.412},{"x":1294,"y":0.462},{"x":1296,"y":0.418},{"x":1297,"y":0.505},{"x":1298,"y":0.557},{"x":1299,"y":0.443},
{"x":1301,"y":0.455},{"x":1302,"y":0.402},{"x":1303,"y":0.438},{"x":1304,"y":0.421},{"x":1306,"y":0.492},{"x":1307,"y":0.433},{"x":1308,"y":0.478},{"x":1309,"y":0.609},
{"x":1311,"y":0.511},{"x":1312,"y":0.421},{"x":1313,"y":0.448},{"x":1314,"y":0.396},{"x":1316,"y":0.543},{"x":1317,"y":0.468},{"x":1318,"y":0.585},{"x":1319,"y":0.427},
{"x":1321,"y":0.473},{"x":1322,"y":0.426},{"x":1323,"y":0.604},{"x":1324,"y":0.482},{"x":1326,"y":0.439},{"x":1327,"y":0.414},{"x":1328,"y":0.413},{"x":1329,"y":0.494},
{"x":1331,"y":0.417},{"x":1332,"y":0.431},{"x":1333,"y":0.476},{"x":1334,"y":0.578},{"x":1336,"y":0.506},{"x":1337,"y":0.389},{"x":1338,"y":0.537},{"x":1339,"y":0.465},
{"x":1341,"y":0.421},{"x":1342,"y":0.451},{"x":1343,"y":0.405},{"x":1344,"y":0.447},{"x":1346,"y":0.561},{"x":1347,"y":0.484},{"x":1348,"y":0.451},{"x":1349,"y":0.532},
{"x":1351,"y":0.434},{"x":1352,"y":0.463},{"x":1353,"y":0.407},{"x":1354,"y":0.534},{"x":1356,"y":0.472},{"x":1357,"y":0.619},{"x":1358,"y":0.496},{"x":1359,"y":0.441},
{"x":1361,"y":0.489},{"x":1362,"y":0.431},{"x":1363,"y":0.424},{"x":1364,"y":0.414},{"x":1366,"y":0.593},{"x":1367,"y":0.456},{"x":1368,"y":0.523},{"x":1369,"y":0.478},
{"x":1371,"y":0.438},{"x":1372,"y":0.507},{"x":1373,"y":0.481},{"x":1374,"y":0.415},{"x":1376,"y":0.428},{"x":1377,"y":0.532},{"x":1378,"y":0.433},{"x":1379,"y":0.612},
{"x":1381,"y":0.567},{"x":1382,"y":0.452},{"x":1383,"y":0.412},{"x":1384,"y":0.493},{"x":1386,"y":0.436},{"x":1387,"y":0.418},{"x":1388,"y":0.462},{"x":1389,"y":0.503},
{"x":1391,"y":0.496},{"x":1392,"y":0.443},{"x":1393,"y":0.437},{"x":1394,"y":0.572},{"x":1396,"y":0.469},{"x":1397,"y":0.528},{"x":1398,"y":0.412},{"x":1399,"y":0.482},
{"x":1401,"y":0.532},{"x":1402,"y":0.447},{"x":1403,"y":0.598},{"x":1404,"y":0.509},{"x":1406,"y":0.456},{"x":1407,"y":0.434},{"x":1408,"y":0.421},{"x":1409,"y":0.538},
{"x":1411,"y":0.476},{"x":1412,"y":0.541},{"x":1413,"y":0.503},{"x":1414,"y":0.458},{"x":1416,"y":0.448},{"x":1417,"y":0.492},{"x":1418,"y":0.447},{"x":1419,"y":0.515}
]},"resolve":{"axis":{"x":"independent","y":"independent"}},"layer":[
{"mark":{"type":"point","opacity":0},"encoding":{"x":{"field":"x","type":"quantitative","scale":{"domain":[-70,1471.6],"nice":false,"zero":false},"axis":{"orient":"top","values":[250,750,1250],"grid":true,"gridColor":"#F2F2F2","gridWidth":0.6,"labels":false,"ticks":false,"domain":true,"domainColor":"#333333","domainWidth":1,"title":null,"minExtent":0,"maxExtent":0}},"y":{"field":"y","type":"quantitative","scale":{"domain":[-0.0122,1.0487],"nice":false,"zero":false},"axis":{"orient":"left","values":[0.125,0.375,0.625,0.875],"grid":true,"gridColor":"#F2F2F2","gridWidth":0.6,"labels":false,"ticks":false,"domain":false,"title":null,"minExtent":0,"maxExtent":0}}}},
{"mark":{"type":"circle","size":21,"fill":"#000000","fillOpacity":0.25,"stroke":"#000000","strokeOpacity":0.3,"strokeWidth":0.7},"encoding":{"x":{"field":"x","type":"quantitative","axis":{"orient":"bottom","values":[0,500,1000],"format":"d","grid":true,"gridColor":"#EBEBEB","gridWidth":1.1,"domain":true,"domainColor":"#333333","domainWidth":1,"tickColor":"#333333","tickSize":3,"labelColor":"#4D4D4D","labelFontSize":11,"labelPadding":2,"title":"Mondat sorszáma","titleFontSize":14,"titleFontWeight":"normal","titleColor":"#000000","titlePadding":3}},"y":{"field":"y","type":"quantitative","axis":{"orient":"left","values":[0,0.25,0.5,0.75,1],"format":".2f","grid":true,"gridColor":"#EBEBEB","gridWidth":1.1,"domain":true,"domainColor":"#333333","domainWidth":1,"tickColor":"#333333","tickSize":3,"labelColor":"#4D4D4D","labelFontSize":11,"labelPadding":2,"title":"Maximum koszinusz hasonlóság","titleFontSize":14,"titleFontWeight":"normal","titleColor":"#000000","titlePadding":7}}}},
{"transform":[{"regression":"y","on":"x"}],"mark":{"type":"line","color":"#999999","opacity":0.4,"strokeWidth":10,"strokeCap":"butt"},"encoding":{"x":{"field":"x","type":"quantitative","axis":null},"y":{"field":"y","type":"quantitative","axis":null}}},
{"transform":[{"regression":"y","on":"x"}],"mark":{"type":"line","color":"#FF0000","strokeWidth":3.2},"encoding":{"x":{"field":"x","type":"quantitative","axis":null},"y":{"field":"y","type":"quantitative","axis":null}}}
]}
